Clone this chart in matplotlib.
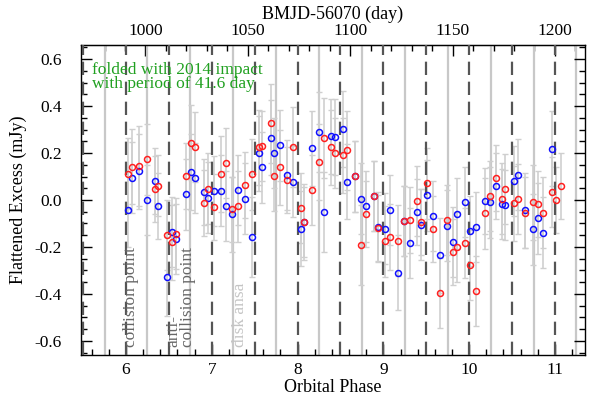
import matplotlib
matplotlib.use('Agg')
import matplotlib.pyplot as plt
from matplotlib.ticker import MultipleLocator, FixedLocator
import numpy as np

plt.rcParams['font.family'] = ['Liberation Serif', 'DejaVu Serif']

# orbital phase of each epoch (red and blue share the epochs)
phase = [6.027, 6.073, 6.157, 6.245, 6.336, 6.369, 6.474, 6.540, 6.583, 6.696,
         6.760, 6.801, 6.908, 6.952, 7.022, 7.107, 7.166, 7.239, 7.300, 7.387,
         7.469, 7.550, 7.584, 7.690, 7.729, 7.791, 7.873, 7.952, 8.040, 8.078,
         8.170, 8.249, 8.311, 8.386, 8.439, 8.526, 8.579, 8.672, 8.739, 8.801,
         8.890, 8.941, 9.019, 9.080, 9.174, 9.244, 9.313, 9.392, 9.438, 9.508,
         9.575, 9.663, 9.745, 9.811, 9.861, 9.955, 10.008, 10.079, 10.184, 10.239,
         10.309, 10.386, 10.421, 10.526, 10.572, 10.654, 10.740, 10.802, 10.860, 10.962,
         11.015, 11.066]

red = [0.112, 0.142, 0.146, 0.173, 0.046, 0.060, -0.148, -0.180, -0.143, 0.102,
       0.244, 0.226, -0.014, 0.048, -0.030, 0.111, 0.157, -0.040, -0.027, 0.063,
       0.109, 0.224, 0.229, 0.326, 0.102, 0.140, 0.085, 0.226, -0.033, -0.094,
       0.043, 0.162, 0.263, 0.224, 0.199, 0.190, 0.211, 0.101, -0.190, -0.060,
       0.017, -0.118, -0.176, -0.159, -0.173, -0.089, -0.085, -0.004, -0.095, 0.071,
       -0.125, -0.396, -0.086, -0.221, -0.200, -0.183, -0.277, -0.387, -0.057, 0.018,
       0.094, 0.006, 0.046, -0.014, 0.004, -0.054, -0.009, -0.017, -0.054, 0.034,
       0.000, 0.061]
red_err = [0.15, 0.16, 0.17, 0.15, 0.14, 0.13, 0.15, 0.16, 0.15, 0.14,
           0.16, 0.15, 0.14, 0.15, 0.14, 0.16, 0.15, 0.14, 0.15, 0.14,
           0.15, 0.16, 0.15, 0.17, 0.15, 0.16, 0.14, 0.17, 0.15, 0.16,
           0.15, 0.16, 0.17, 0.16, 0.15, 0.16, 0.17, 0.15, 0.17, 0.14,
           0.15, 0.14, 0.15, 0.14, 0.15, 0.15, 0.14, 0.15, 0.14, 0.15,
           0.14, 0.15, 0.15, 0.14, 0.15, 0.15, 0.15, 0.15, 0.15, 0.15,
           0.14, 0.15, 0.15, 0.16, 0.15, 0.15, 0.16, 0.14, 0.15, 0.15,
           0.14, 0.14]

blue = [-0.041, 0.095, 0.123, 0.000, 0.081, -0.027, -0.326, -0.137, -0.167, 0.024,
        0.119, 0.094, 0.034, 0.010, 0.038, 0.040, -0.026, -0.060, 0.043, 0.006,
        -0.159, 0.199, 0.139, 0.265, 0.199, 0.233, 0.106, 0.078, -0.123, -0.094,
        0.220, 0.288, -0.051, 0.272, 0.268, 0.302, 0.078, 0.101, 0.006, -0.027,
        0.017, -0.114, -0.122, -0.043, -0.309, -0.089, -0.183, -0.050, -0.105, 0.020,
        -0.069, -0.235, -0.109, -0.179, -0.058, -0.009, -0.133, -0.115, -0.003, -0.010,
        0.061, -0.016, -0.021, 0.082, 0.108, -0.043, -0.125, -0.078, -0.139, 0.218]
blue_err = [0.16, 0.15, 0.16, 0.15, 0.14, 0.14, 0.17, 0.15, 0.15, 0.15,
            0.16, 0.15, 0.14, 0.15, 0.15, 0.15, 0.15, 0.16, 0.15, 0.15,
            0.17, 0.16, 0.15, 0.16, 0.15, 0.15, 0.15, 0.15, 0.16, 0.15,
            0.16, 0.17, 0.17, 0.16, 0.16, 0.16, 0.16, 0.15, 0.15, 0.15,
            0.15, 0.15, 0.15, 0.15, 0.16, 0.15, 0.15, 0.14, 0.15, 0.15,
            0.15, 0.16, 0.15, 0.15, 0.15, 0.15, 0.15, 0.15, 0.14, 0.15,
            0.14, 0.15, 0.15, 0.15, 0.15, 0.16, 0.15, 0.15, 0.15, 0.16]

half_phases = [5.5, 6.0, 6.5, 7.0, 7.5, 8.0, 8.5, 9.0, 9.5, 10.0, 10.5, 11.0]
quarter_phases = [5.75, 6.25, 6.75, 7.25, 7.75, 8.25, 8.75, 9.25, 9.75, 10.25, 10.75, 11.25]
day_ticks = [1000, 1050, 1100, 1150, 1200]

period = 41.9  # days per phase unit on the top axis
day_ref, phase_ref = 1200.0, 11.0


def ph2day(p):
    return day_ref + (np.asarray(p) - phase_ref) * period


def day2ph(d):
    return phase_ref + (np.asarray(d) - day_ref) / period


fig = plt.figure(figsize=(5.89, 4.01), dpi=100)
ax = fig.add_axes([0.1375, 0.1147, 0.8557, 0.7731])

for p in quarter_phases:
    ax.axvline(p, color='#c8c8c8', lw=1.6, zorder=1)
for p in half_phases:
    ax.axvline(p, color='#555555', lw=1.6, dashes=(6, 3), zorder=3)

n_blue = len(blue)
ax.errorbar(phase, red, yerr=red_err, fmt='none', ecolor='#cfcfcf',
            elinewidth=1.2, capsize=2.5, capthick=1.0, zorder=2)
ax.errorbar(phase[:n_blue], blue, yerr=blue_err, fmt='none', ecolor='#cfcfcf',
            elinewidth=1.2, capsize=2.5, capthick=1.0, zorder=2)
ax.plot(phase[:n_blue], blue, 'o', mfc='none', mec='#1010ff', ms=4.3, mew=1.1, zorder=4)
ax.plot(phase, red, 'o', mfc='none', mec='#ff2020', ms=4.3, mew=1.1, zorder=5)

ax.set_xlim(5.475, 11.35)
ax.set_ylim(-0.66, 0.66)
ax.xaxis.set_major_locator(MultipleLocator(1))
ax.xaxis.set_minor_locator(MultipleLocator(0.2))
ax.yaxis.set_major_locator(MultipleLocator(0.2))
ax.yaxis.set_minor_locator(MultipleLocator(0.05))
ax.yaxis.set_major_formatter(plt.FuncFormatter(lambda v, _: f'{v:.1f}'.replace('-0.0', '0.0')))
ax.tick_params(which='both', direction='in', top=False, right=True, labelsize=12.5, width=1)
ax.tick_params(which='major', length=8)
ax.tick_params(which='minor', length=4)
ax.tick_params(axis='y', pad=14)
ax.tick_params(axis='x', pad=5)

top = ax.secondary_xaxis('top', functions=(ph2day, day2ph))
top.xaxis.set_major_locator(FixedLocator(day_ticks))
top.xaxis.set_minor_locator(FixedLocator(np.arange(980, 1215, 10)))
top.tick_params(which='both', direction='in', labelsize=12.5, width=1, pad=4)
top.tick_params(which='major', length=8)
top.tick_params(which='minor', length=4)
top.set_xlabel('BMJD-56070 (day)', fontsize=13, labelpad=3)

ax.set_xlabel('Orbital Phase', fontsize=13, labelpad=1)
ax.set_ylabel('Flattened Excess (mJy)', fontsize=13, labelpad=5)

ax.text(0.022, 0.945, 'folded with 2014 impact\nwith period of 41.6 day',
        transform=ax.transAxes, color='#20a020', fontsize=12.5, va='top',
        linespacing=0.85)

ax.text(6.055, -0.625, 'collision point', rotation=90, color='#666666',
        fontsize=12.5, ha='center', va='bottom')
ax.text(6.64, -0.625, 'anti-\ncollision point', rotation=90, color='#666666',
        fontsize=12.5, ha='center', va='bottom', multialignment='left', linespacing=0.85)
ax.text(7.33, -0.625, 'disk ansa', rotation=90, color='#c4c4c4',
        fontsize=12.5, ha='center', va='bottom')

for s in ax.spines.values():
    s.set_linewidth(1)

fig.savefig('out.png', dpi=100)
